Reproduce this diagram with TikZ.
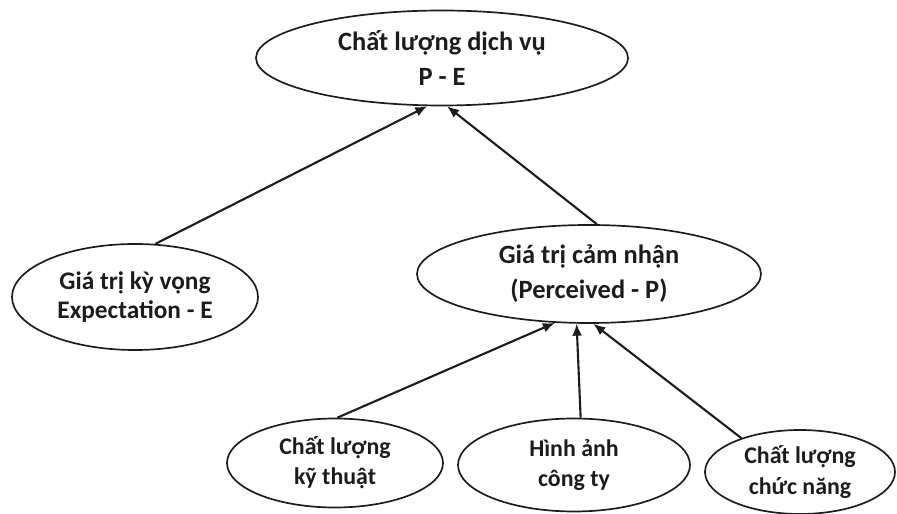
\documentclass[tikz,border=0pt]{standalone}
\usepackage{fontspec}
\setmainfont{Carlito}
\usepackage{tikz}
\usetikzlibrary{arrows.meta}
\usetikzlibrary{shapes.geometric}
\definecolor{ink}{HTML}{1C1C1C}
\tikzset{>={Latex[length=8.5pt,width=7pt]}}
\tikzstyle{elli} = [ellipse, draw=ink, line width=1.2pt, inner sep=0, align=center, text=ink, font=\fontsize{17}{21.5}\selectfont\bfseries]
\tikzstyle{big} = [font=\fontsize{18.8}{25}\selectfont\bfseries]
\tikzstyle{link} = [->, draw=ink, line width=1.5pt]

\begin{document}
\begin{tikzpicture}
\useasboundingbox (0,0) rectangle (22.425,12.85);
% top level
\node [elli, big, minimum width=9.3cm, minimum height=2.375cm] (SQ) at (11.05, 11.4) {Chất lượng dịch vụ\\P - E};
% second level
\node [elli, font=\fontsize{18}{20.5}\selectfont\bfseries, minimum width=6.15cm, minimum height=2.65cm] (E) at (3.375, 5.425) {Giá trị kỳ vọng\\Expectation - E};
\node [elli, big, minimum width=8.6cm, minimum height=2.45cm] (P) at (14.725, 6.0) {Giá trị cảm nhận\\(Perceived - P)};
% third level
\node [elli, minimum width=5.4cm, minimum height=2.225cm] (T) at (8.375, 1.275) {Chất lượng\\kỹ thuật};
\node [elli, minimum width=5.8cm, minimum height=2.325cm] (I) at (14.35, 1.225) {Hình ảnh\\công ty};
\node [elli, minimum width=4.75cm, minimum height=2.1cm] (F) at (20.0, 1.05) {Chất lượng\\chức năng};
\draw [link] (E.69) to (SQ.253);
\draw [link] (P.81) to (SQ.276);
\draw [link] (T.87) to (P.235);
\draw [link] (I.82) to (P.256);
\draw [link] (F.150) to (P.275);
\end{tikzpicture}
\end{document}
